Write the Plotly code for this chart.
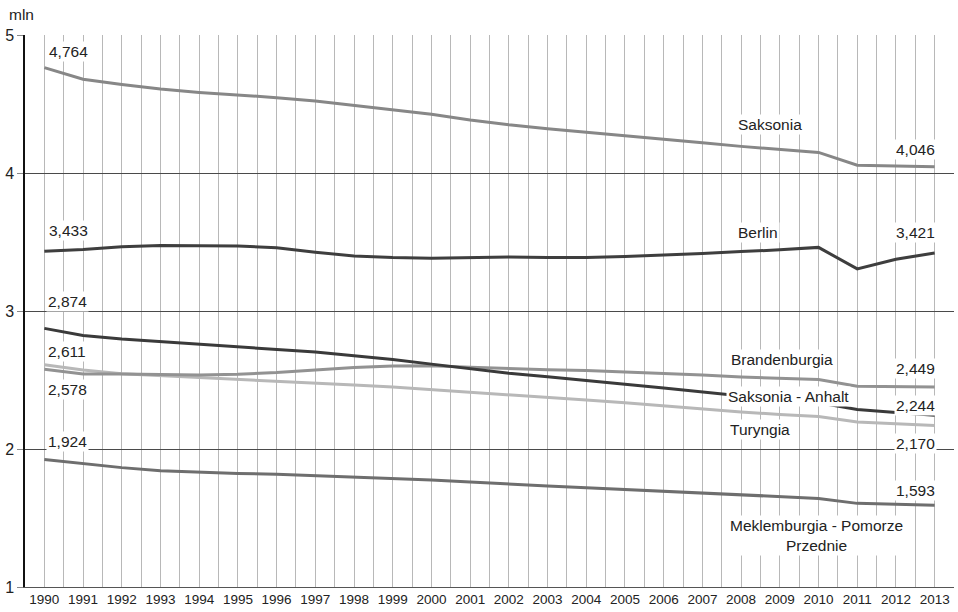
import plotly.graph_objects as go

years = list(range(1990, 2014))

saksonia = [4.764, 4.679, 4.641, 4.608, 4.584, 4.567, 4.546, 4.522, 4.489, 4.460, 4.426, 4.384,
            4.349, 4.321, 4.296, 4.274, 4.250, 4.220, 4.193, 4.169, 4.149, 4.056, 4.050, 4.046]
berlin = [3.433, 3.446, 3.466, 3.475, 3.472, 3.471, 3.459, 3.426, 3.399, 3.387, 3.382, 3.388,
          3.392, 3.388, 3.388, 3.395, 3.404, 3.416, 3.431, 3.443, 3.461, 3.305, 3.375, 3.421]
brandenburgia = [2.578, 2.543, 2.543, 2.538, 2.537, 2.542, 2.554, 2.573, 2.590, 2.601, 2.603, 2.593,
                 2.582, 2.575, 2.568, 2.559, 2.548, 2.536, 2.522, 2.512, 2.503, 2.455, 2.450, 2.449]
saksonia_anhalt = [2.874, 2.823, 2.797, 2.778, 2.759, 2.739, 2.724, 2.702, 2.675, 2.649, 2.615, 2.581,
                   2.549, 2.523, 2.494, 2.470, 2.442, 2.412, 2.382, 2.356, 2.335, 2.287, 2.265, 2.244]
turyngia = [2.611, 2.572, 2.546, 2.533, 2.518, 2.504, 2.491, 2.478, 2.463, 2.449, 2.431, 2.411,
            2.392, 2.373, 2.355, 2.335, 2.311, 2.289, 2.268, 2.250, 2.235, 2.195, 2.180, 2.170]
meklemburgia = [1.924, 1.892, 1.865, 1.843, 1.832, 1.823, 1.817, 1.808, 1.798, 1.789, 1.776, 1.760,
                1.744, 1.732, 1.720, 1.707, 1.694, 1.680, 1.664, 1.651, 1.642, 1.606, 1.600, 1.593]

year_ticks = [str(y) for y in years]

series = [
    ("Turyngia", turyngia, "#b8b8b8"),
    ("Brandenburgia", brandenburgia, "#929292"),
    ("Saksonia", saksonia, "#878787"),
    ("Meklemburgia - Pomorze Przednie", meklemburgia, "#6e6e6e"),
    ("Berlin", berlin, "#3e3e3e"),
    ("Saksonia - Anhalt", saksonia_anhalt, "#3a3a3a"),
]

fig = go.Figure()
for name, vals, col in series:
    fig.add_trace(go.Scatter(x=years, y=vals, mode="lines", name=name,
                             line=dict(color=col, width=3), showlegend=False,
                             hoverinfo="skip"))

FONT = "Liberation Sans, Arial, sans-serif"

# (text, x, y, xanchor)
labels = [
    ("4,764", 1990.08, 4.877, "left"),
    ("4,046", 2013.05, 4.167, "right"),
    ("Saksonia", 2007.86, 4.348, "left"),
    ("3,433", 1990.08, 3.580, "left"),
    ("Berlin", 2007.86, 3.572, "left"),
    ("3,421", 2013.05, 3.572, "right"),
    ("2,874", 1990.03, 3.070, "left"),
    ("2,611", 1990.03, 2.703, "left"),
    ("2,578", 1990.03, 2.428, "left"),
    ("1,924", 1990.03, 2.051, "left"),
    ("Brandenburgia", 2007.70, 2.645, "left"),
    ("2,449", 2013.05, 2.580, "right"),
    ("Saksonia - Anhalt", 2007.62, 2.377, "left"),
    ("2,244", 2013.05, 2.312, "right"),
    ("Turyngia", 2007.67, 2.138, "left"),
    ("2,170", 2013.05, 2.043, "right"),
    ("1,593", 2013.05, 1.696, "right"),
    ("Meklemburgia - Pomorze<br>Przednie", 2009.95, 1.370, "center"),
]
for text, x, y, xa in labels:
    fig.add_annotation(x=x, y=y, text=text, xanchor=xa, yanchor="middle",
                       showarrow=False, bgcolor="white", borderpad=1,
                       font=dict(family=FONT, size=15.5, color="#222222"),
                       align="center")

fig.add_annotation(x=0.0, y=1.0, xref="paper", yref="paper", text="mln",
                   xanchor="left", yanchor="bottom", yshift=10, xshift=-18,
                   showarrow=False, font=dict(family=FONT, size=15.5, color="#222222"))

fig.update_layout(
    width=958, height=612,
    margin=dict(l=25, r=4, t=35, b=25),
    paper_bgcolor="white", plot_bgcolor="white",
    font=dict(family=FONT, color="#222222"),
    xaxis=dict(range=[1989.5, 2013.5], tickmode="array", tickvals=years,
               ticktext=year_ticks, showgrid=True, gridcolor="#b8b8b8", gridwidth=1,
               minor=dict(tickmode="linear", tick0=1989.5, dtick=1, showgrid=True,
                          gridcolor="#b8b8b8", gridwidth=1),
               ticks="", tickfont=dict(family=FONT, size=13.5, color="#222222"),
               showline=True, linecolor="#555555", linewidth=1, zeroline=False,
               fixedrange=True),
    yaxis=dict(range=[1, 5], tickmode="array", tickvals=[1, 2, 3, 4, 5],
               ticktext=["1", "2", "3", "4", "5"], showgrid=True, gridcolor="#4a4a4a",
               gridwidth=1, ticks="outside", ticklen=6, tickcolor="#888888",
               tickfont=dict(family=FONT, size=16, color="#222222"),
               showline=True, linecolor="#111111", linewidth=1.5, zeroline=False,
               fixedrange=True),
)

fig.write_html("out.html", config={"displayModeBar": False},
               post_script="document.body.style.margin='0';document.body.style.overflow='hidden';")
